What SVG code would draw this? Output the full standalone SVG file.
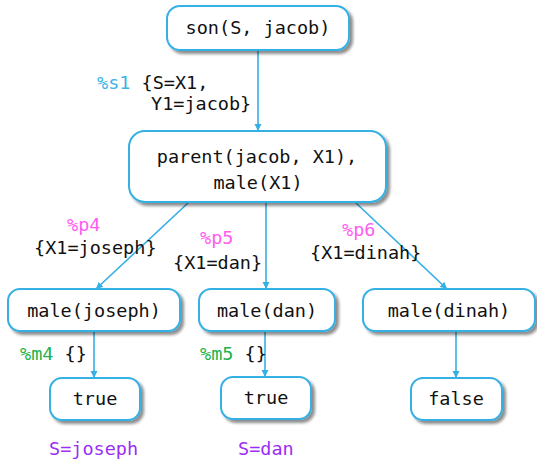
<svg xmlns="http://www.w3.org/2000/svg" width="537" height="460" viewBox="0 0 537 460">
<defs>
<filter id="sh" x="-10%" y="-20%" width="130%" height="150%">
<feGaussianBlur in="SourceAlpha" stdDeviation="1.5"/>
<feOffset dx="2.5" dy="2.5" result="b"/>
<feComponentTransfer><feFuncA type="linear" slope="0.45"/></feComponentTransfer>
<feMerge><feMergeNode/><feMergeNode in="SourceGraphic"/></feMerge>
</filter>
<marker id="ah" markerWidth="8" markerHeight="8" refX="7" refY="4" orient="auto" markerUnits="userSpaceOnUse">
<path d="M0,0.5 L7,4 L0,7.5 Z" fill="#35b0e4"/>
</marker>
</defs>
<style>
.box{fill:#fff;stroke:#35b0e4;stroke-width:2;filter:url(#sh)}
.t{font-family:"DejaVu Sans Mono","Liberation Mono",monospace;font-size:18.5px;fill:#111}
.c{text-anchor:middle}
.e{stroke:#35b0e4;stroke-width:1.6;fill:none;marker-end:url(#ah)}
.blue{fill:#3cb4e6}
.pink{fill:#ff5cf0}
.green{fill:#22b24c}
.purple{fill:#9a2ef5}
</style>
<g id="connectors">
<line class="e" x1="258" y1="51" x2="258" y2="131"/>
<line class="e" x1="188" y1="203" x2="96" y2="289"/>
<line class="e" x1="266" y1="203" x2="266" y2="289"/>
<line class="e" x1="356" y1="203" x2="447" y2="289"/>
<line class="e" x1="94" y1="332" x2="94" y2="378"/>
<line class="e" x1="265" y1="332" x2="265" y2="377"/>
<line class="e" x1="456" y1="332" x2="456" y2="378"/>
</g>
<g id="n1"><rect class="box" x="167" y="6" width="182" height="44" rx="13"/><text class="t c" x="258" y="34">son(S, jacob)</text></g>
<g id="n2"><rect class="box" x="129" y="131" width="257" height="71" rx="16"/><text class="t c" x="257" y="163">parent(jacob, X1),</text><text class="t c" x="258" y="189">male(X1)</text></g>
<g id="n3"><rect class="box" x="8" y="289" width="172" height="42" rx="12"/><text class="t c" x="94" y="317">male(joseph)</text></g>
<g id="n4"><rect class="box" x="199" y="289" width="136" height="42" rx="12"/><text class="t c" x="267" y="317">male(dan)</text></g>
<g id="n5"><rect class="box" x="363" y="289" width="172" height="42" rx="12"/><text class="t c" x="449" y="317">male(dinah)</text></g>
<g id="n6"><rect class="box" x="50" y="378" width="90" height="42" rx="12"/><text class="t c" x="95" y="405">true</text></g>
<g id="n7"><rect class="box" x="221" y="377" width="90" height="42" rx="12"/><text class="t c" x="266" y="404">true</text></g>
<g id="n8"><rect class="box" x="411" y="378" width="91" height="42" rx="12"/><text class="t c" x="456" y="405">false</text></g>
<g id="labels">
<text class="t" x="97" y="89"><tspan class="blue">%s1</tspan> {S=X1,</text>
<text class="t" x="151" y="110">Y1=jacob}</text>
<text class="t pink" x="67" y="231">%p4</text>
<text class="t" x="34" y="254">{X1=joseph}</text>
<text class="t pink" x="200" y="244">%p5</text>
<text class="t" x="173" y="269">{X1=dan}</text>
<text class="t pink" x="342" y="236">%p6</text>
<text class="t" x="310" y="259">{X1=dinah}</text>
<text class="t" x="20" y="360"><tspan class="green">%m4</tspan> {}</text>
<text class="t" x="200" y="360"><tspan class="green">%m5</tspan> {}</text>
<text class="t purple" x="49" y="455">S=joseph</text>
<text class="t purple" x="238" y="455">S=dan</text>
</g>
</svg>
